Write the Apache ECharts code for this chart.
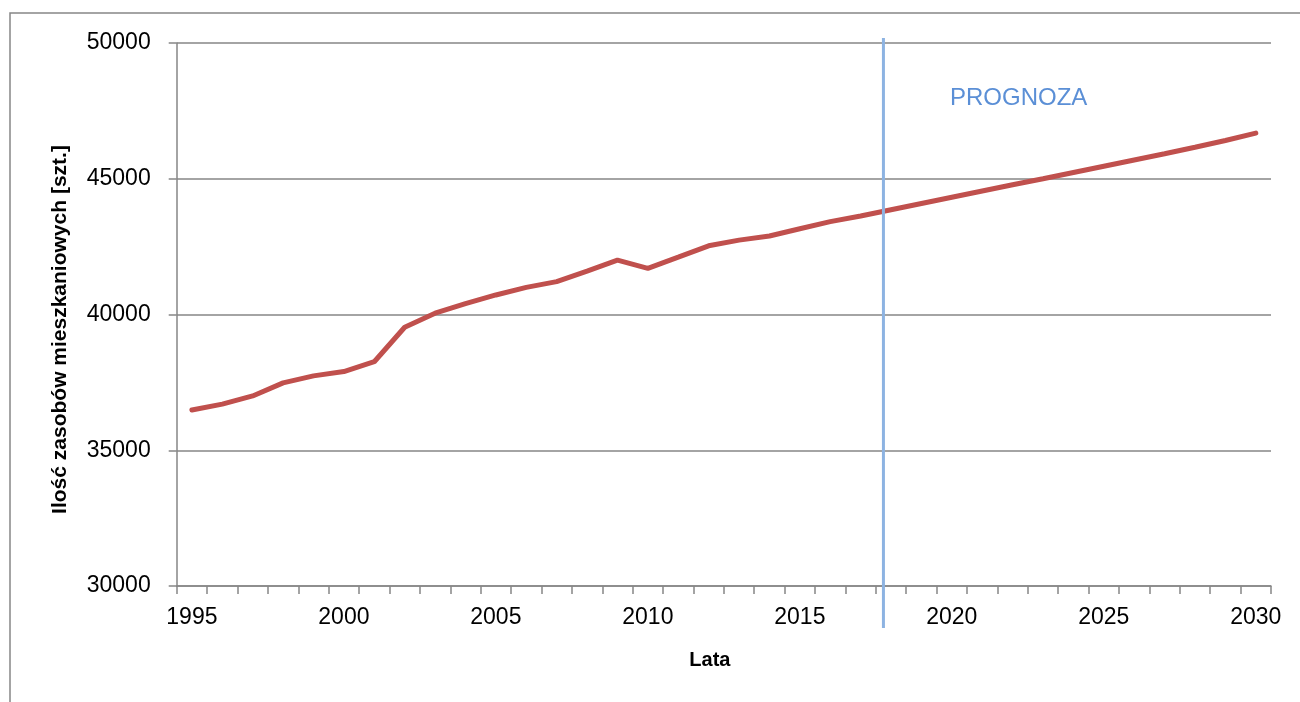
<!DOCTYPE html>
<html>
<head>
<meta charset="utf-8">
<script src="https://cdn.jsdelivr.net/npm/echarts@6/dist/echarts.min.js"></script>
<style>
  html, body { margin: 0; padding: 0; background: #fff; }
  #chart { width: 1300px; height: 702px; }
</style>
</head>
<body>
<div id="chart"></div>
<script>
// lata 1995-2030, zasoby mieszkaniowe (szt.), od 2018 prognoza
const years = [
  1995, 1996, 1997, 1998, 1999, 2000, 2001, 2002, 2003, 2004, 2005, 2006,
  2007, 2008, 2009, 2010, 2011, 2012, 2013, 2014, 2015, 2016, 2017, 2018,
  2019, 2020, 2021, 2022, 2023, 2024, 2025, 2026, 2027, 2028, 2029, 2030
]
const stock = [
  36480, 36700, 37000, 37480, 37740, 37900, 38260, 39530, 40050, 40400, 40720, 41000,
  41210, 41600, 42000, 41700, 42110, 42530, 42740, 42890, 43160, 43420, 43630, 43860,
  44090, 44320, 44550, 44780, 45000, 45230, 45460, 45690, 45920, 46160, 46410, 46680
]
const yTicks = [30000, 35000, 40000, 45000, 50000]
const forecastYear = 2017.75
const forecastSpan = [28450, 50180]
const forecastLabel = 'PROGNOZA'

const gray = '#868686'
const font = 'Liberation Sans'

const chart = echarts.init(document.getElementById('chart'))

const option = {
  animation: false,
  grid: { left: 176.7, right: 29, top: 43, bottom: 116, outerBoundsMode: 'none' },
  xAxis: [
    {
      type: 'category',
      data: years,
      boundaryGap: true,
      name: 'Lata',
      nameLocation: 'middle',
      nameGap: 64,
      nameTextStyle: { fontFamily: font, fontWeight: 'bold', fontSize: 20, color: '#000', padding: [0, 28, 0, 0] },
      axisLine: { show: true, onZero: false, lineStyle: { color: gray, width: 1.5 } },
      axisTick: { show: true, inside: false, interval: 0, length: 8, lineStyle: { color: gray, width: 1.5 } },
      axisLabel: { interval: 4, margin: 20, fontFamily: font, fontSize: 23, color: '#000' },
      splitLine: { show: false }
    },
    {
      type: 'value',
      show: false,
      min: -0.5,
      max: years.length - 0.5
    }
  ],
  yAxis: {
    type: 'value',
    min: yTicks[0],
    max: yTicks[yTicks.length - 1],
    interval: yTicks[1] - yTicks[0],
    name: 'Ilość zasobów mieszkaniowych [szt.]',
    nameLocation: 'middle',
    nameGap: 106,
    nameTextStyle: { fontFamily: font, fontWeight: 'bold', fontSize: 21, color: '#000', padding: [0, 30, 0, 0] },
    axisLine: { show: true, onZero: false, lineStyle: { color: gray, width: 1.5 } },
    axisTick: { show: true, inside: false, length: 8, lineStyle: { color: gray, width: 1.5 } },
    axisLabel: { margin: 26, fontFamily: font, fontSize: 23, color: '#000', formatter: (v) => String(v) },
    splitLine: { lineStyle: { color: gray, width: 1.5 } }
  },
  series: [
    {
      type: 'line',
      data: stock,
      symbol: 'none',
      lineStyle: { color: '#c0504d', width: 5, cap: 'round' },
      itemStyle: { color: '#c0504d' },
      z: 3
    },
    {
      type: 'line',
      xAxisIndex: 1,
      data: forecastSpan.map((v) => [forecastYear - years[0], v]),
      symbol: 'none',
      clip: false,
      silent: true,
      lineStyle: { color: '#8db3e2', width: 3 },
      z: 4
    }
  ],
  graphic: [
    {
      type: 'rect',
      shape: { x: 10, y: 13, width: 1300, height: 700 },
      style: { fill: 'none', stroke: gray, lineWidth: 1.5 },
      silent: true
    },
    {
      type: 'text',
      left: 950,
      top: 86,
      style: { text: forecastLabel, fontFamily: font, fontSize: 24, fill: '#5b8fd6' },
      silent: true
    }
  ]
}

chart.setOption(option)
</script>
</body>
</html>
